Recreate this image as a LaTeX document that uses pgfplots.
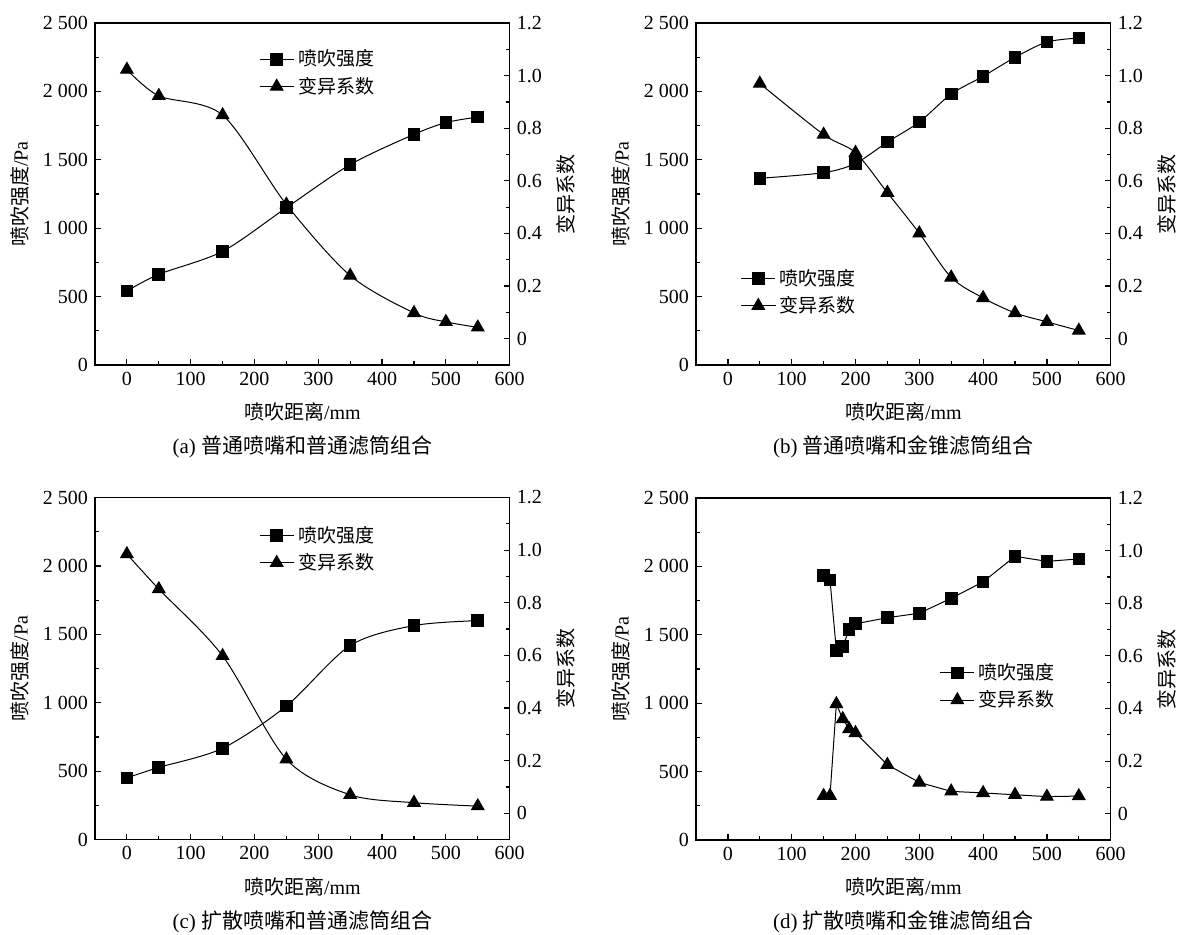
\documentclass[border=0pt]{standalone}
\usepackage{fontspec}
\setmainfont{Liberation Serif}
\newfontfamily\cjk{Noto Sans CJK SC}
\usepackage{pgfplots}
\pgfplotsset{compat=1.18}

\tikzset{captxt/.style={font=\fontsize{10.5}{12}\selectfont}}

\pgfplotsset{
  base/.style={
    scale only axis, width=207.35pt, height=171pt,
    xmin=-50, xmax=600,
    /pgf/number format/assume math mode=true,
    tick label style={font=\fontsize{10}{11}\selectfont},
    axis line style={line width=0.7pt},
    tick align=inside,
    major tick length=3pt, minor tick length=1.8pt,
    every tick/.style={black, line width=0.6pt},
  },
  leftax/.style={base,
    ymin=0, ymax=2500,
    xtick={0,100,200,300,400,500,600}, minor x tick num=1,
    ytick={0,500,1000,1500,2000,2500},
    yticklabels={0,500,1 000,1 500,2 000,2 500},
    minor y tick num=1,
    xtick pos=left, ytick pos=left,
    xlabel={{\cjk 喷吹距离}/mm}, ylabel={{\cjk 喷吹强度}/Pa},
    every axis x label/.style={at={(axis description cs:0.5,0)}, anchor=center, yshift=-23.5pt, font=\fontsize{10}{11}\selectfont},
    every axis y label/.style={at={(axis description cs:-0.181,0.5)}, rotate=90, anchor=center, font=\fontsize{10}{11}\selectfont},
  },
  rightax/.style={base,
    ymin=-0.1, ymax=1.2,
    axis y line*=right, axis x line=none,
    ytick={0,0.2,0.4,0.6,0.8,1.0,1.2},
    yticklabels={0,0.2,0.4,0.6,0.8,1.0,1.2},
    minor y tick num=1,
    ylabel={\cjk 变异系数},
    every axis y label/.style={at={(axis description cs:1.135,0.5)}, rotate=90, anchor=center, font=\fontsize{10}{11}\selectfont},
    legend cell align=left,
    legend style={draw=none, fill=none, font=\fontsize{9.5}{12}\selectfont\cjk, anchor=north west, inner sep=1pt, row sep=0pt},
  },
  sq/.style={black, line width=0.5pt, mark=square*, mark size=2.9pt, mark options={solid}},
  tri/.style={black, line width=0.5pt, mark=triangle*, mark size=3.6pt, mark options={solid}},
}

\begin{document}
\begin{tikzpicture}
\useasboundingbox (0,0) rectangle (590.5pt,-467pt);

% ---------- (a) ----------
\begin{axis}[leftax, at={(47.5pt,-182.5pt)}, anchor=south west]
\addplot[sq, smooth] coordinates {(0,541)(50,663)(150,831)(250,1150)(350,1465)(450,1686)(500,1772)(550,1813)};
\end{axis}
\begin{axis}[rightax, at={(47.5pt,-182.5pt)}, anchor=south west,
  legend style={at={(axis description cs:0.39,0.94)}}]
\addlegendimage{sq}
\addlegendentry{喷吹强度}
\addplot[tri, smooth] coordinates {(0,1.023)(50,0.923)(150,0.85)(250,0.51)(350,0.24)(450,0.098)(500,0.064)(550,0.043)};
\addlegendentry{变异系数}
\end{axis}
\node[captxt] at (151.2pt,-223.5pt) {(a)\ {\cjk 普通喷嘴和普通滤筒组合}};

% ---------- (b) ----------
\begin{axis}[leftax, at={(348pt,-182.5pt)}, anchor=south west]
\addplot[sq, smooth] coordinates {(50,1365)(150,1406)(200,1474)(250,1630)(300,1776)(350,1981)(400,2110)(450,2249)(500,2361)(550,2390)};
\end{axis}
\begin{axis}[rightax, at={(348pt,-182.5pt)}, anchor=south west,
  legend style={at={(axis description cs:0.102,0.299)}}]
\addlegendimage{sq}
\addlegendentry{喷吹强度}
\addplot[tri, smooth] coordinates {(50,0.97)(150,0.776)(200,0.707)(250,0.555)(300,0.401)(350,0.233)(400,0.155)(450,0.098)(500,0.064)(550,0.031)};
\addlegendentry{变异系数}
\end{axis}
\node[captxt] at (451.7pt,-223.5pt) {(b)\ {\cjk 普通喷嘴和金锥滤筒组合}};

% ---------- (c) ----------
\begin{axis}[leftax, at={(47.5pt,-419.75pt)}, anchor=south west]
\addplot[sq, smooth] coordinates {(0,451)(50,527)(150,667)(250,976)(350,1418)(450,1564)(550,1600)};
\end{axis}
\begin{axis}[rightax, at={(47.5pt,-419.75pt)}, anchor=south west,
  legend style={at={(axis description cs:0.39,0.935)}}]
\addlegendimage{sq}
\addlegendentry{喷吹强度}
\addplot[tri, smooth] coordinates {(0,0.985)(50,0.852)(150,0.598)(250,0.205)(350,0.07)(450,0.04)(550,0.027)};
\addlegendentry{变异系数}
\end{axis}
\node[captxt] at (151.2pt,-461pt) {(c)\ {\cjk 扩散喷嘴和普通滤筒组合}};

% ---------- (d) ----------
\begin{axis}[leftax, at={(348pt,-420pt)}, anchor=south west]
\addplot[sq] coordinates {(150,1933)(160,1901)(170,1386)(180,1415)(190,1537)(200,1581)(250,1625)(300,1658)(350,1767)(400,1887)(450,2074)(500,2037)(550,2055)};
\end{axis}
\begin{axis}[rightax, at={(348pt,-420pt)}, anchor=south west,
  legend style={at={(axis description cs:0.582,0.535)}}]
\addlegendimage{sq}
\addlegendentry{喷吹强度}
\addplot[tri] coordinates {(150,0.068)(160,0.068)(170,0.417)(180,0.36)(190,0.322)(200,0.307)(250,0.186)(300,0.119)(350,0.085)(400,0.079)(450,0.072)(500,0.065)(550,0.067)};
\addlegendentry{变异系数}
\end{axis}
\node[captxt] at (451.7pt,-461pt) {(d)\ {\cjk 扩散喷嘴和金锥滤筒组合}};
\end{tikzpicture}
\end{document}
